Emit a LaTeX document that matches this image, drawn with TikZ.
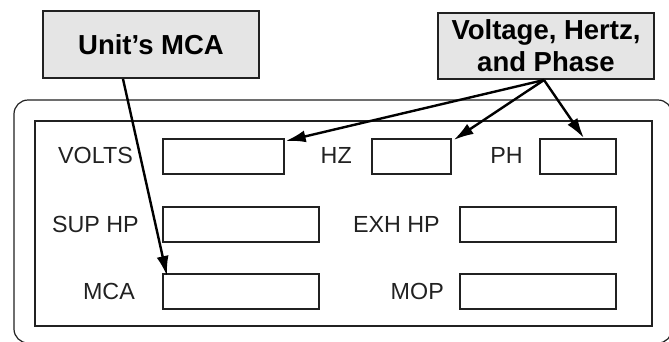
\documentclass[tikz,border=0pt]{standalone}
\usepackage{fontspec}
\setmainfont{Liberation Sans}
\usetikzlibrary{arrows.meta}
\usetikzlibrary{positioning}
\definecolor{callgray}{rgb}{0.9, 0.9, 0.9}
\definecolor{ink}{rgb}{0.13, 0.13, 0.13}
\tikzset{field/.style = {draw = ink, line width = 1.7, anchor = north west, inner sep = 0, minimum height = 35}}
\tikzset{tag/.style = {anchor = east, inner sep = 0, text = ink, font = \fontsize{23.3}{25}\selectfont}}
\tikzset{callout/.style = {draw = ink, line width = 2, fill = callgray, anchor = north west, inner sep = 0, align = center, font = \fontsize{27.5}{32}\selectfont\bfseries}}
\tikzset{pointer/.style = {line width = 2.4, -{Latex[length = 20pt, width = 12pt]}}}

\begin{document}
\begin{tikzpicture}[x=1pt, y=-1pt]
    \useasboundingbox (0, 0) rectangle (669, 341);

    \draw [ink, line width = 1.2, rounded corners = 14] (14, 100) rectangle (672, 343);
    \draw [ink, line width = 1.6] (35, 121) rectangle (652, 326);

    \node [tag] (volts) at (133, 155) {VOLTS};
    \node [field, minimum width = 121] (voltsbox) at (162, 138) {};
    \node [tag] (hz) at (352, 155) {HZ};
    \node [field, minimum width = 79] (hzbox) at (371, 138) {};
    \node [tag] (ph) at (523, 155) {PH};
    \node [field, minimum width = 76] (phbox) at (539, 138) {};

    \node [tag] (suphp) at (139, 224) {SUP HP};
    \node [field, minimum width = 156] (suphpbox) at (162, 206) {};
    \node [tag] (exhhp) at (440, 224) {EXH HP};
    \node [field, minimum width = 156] (exhhpbox) at (459, 206) {};

    \node [tag] (mca) at (135, 291) {MCA};
    \node [field, minimum width = 156] (mcabox) at (162, 273) {};
    \node [tag] (mop) at (444, 291) {MOP};
    \node [field, minimum width = 156] (mopbox) at (459, 273) {};

    \node [callout, minimum width = 216, minimum height = 67] (unitmca) at (42, 10) {Unit’s MCA};
    \node [callout, minimum width = 216, minimum height = 66] (vhp) at (437, 12) {Voltage, Hertz,\\and Phase};

    \draw [pointer] ([xshift = -28pt] unitmca.south) -- ([xshift = 5pt, yshift = -3pt] mcabox.north west);
    \draw [pointer] ([xshift = -2pt] vhp.south) -- ([xshift = 1pt, yshift = -3pt] voltsbox.north east);
    \draw [pointer] ([xshift = -2pt] vhp.south) -- ([xshift = 2pt, yshift = -2pt] hzbox.north east);
    \draw [pointer] ([xshift = -2pt] vhp.south) -- ([xshift = 6pt] phbox.north);
  \end{tikzpicture}
\end{document}
